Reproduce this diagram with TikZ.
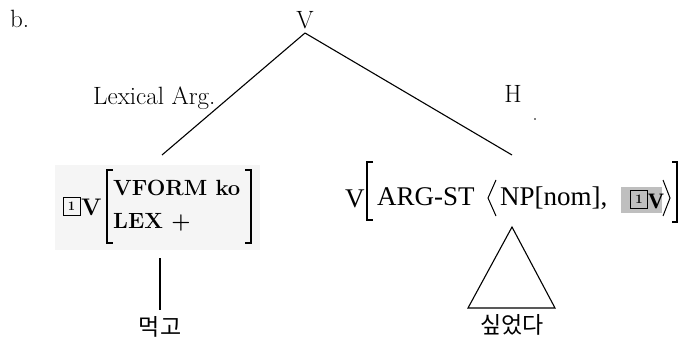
\documentclass[tikz,border=0pt]{standalone}
\usepackage{fontspec}
\newfontfamily\krfont{Noto Sans CJK KR}
\newfontfamily\tmsfont{Liberation Serif}
\begin{document}
\begin{tikzpicture}[x=1pt,y=-1pt,
  lbl/.style={inner sep=0pt, font=\fontsize{25}{29}\selectfont},
  avmL/.style={inner sep=0pt, anchor=base west, font=\fontsize{22}{26}\selectfont\bfseries},
  avmR/.style={inner sep=0pt, anchor=base west, font=\fontsize{27}{31}\selectfont\tmsfont},
  tagbox/.style={draw, line width=1pt, inner sep=0pt, minimum width=17pt, minimum height=18pt, font=\fontsize{13}{13}\selectfont\bfseries},
  br/.style={line width=1.6pt},
  angl/.style={line width=1pt},
  edge/.style={line width=1.1pt},
  kor/.style={inner sep=0pt, font=\fontsize{23}{27}\selectfont\krfont}]
\useasboundingbox (0,0) rectangle (679,339);
% faint background of the left AVM
\fill[black!4] (55,165) rectangle (260,250);
% root and labels
\node[lbl, anchor=base west] (b) at (10,28) {b.};
\node[lbl, anchor=base] (root) at (305,29) {V};
\coordinate (apex) at (305,33);
\coordinate (lt) at (162,155);
\coordinate (rt) at (512,155);
\draw[edge] (apex) -- (lt);
\draw[edge] (apex) -- (rt);
\node[lbl, anchor=base west] (lexarg) at (93,105) {Lexical Arg.};
\node[lbl, anchor=base] (h) at (513,103) {H};
\fill (535,119) circle (0.8pt);
% left AVM
\node[tagbox] (tagL) at (71.5,206) {1};
\node[avmL, font=\fontsize{24}{28}\selectfont\bfseries] (vL) at (81,215) {V};
\draw[br] (113,170) -- (107,170) -- (107,243) -- (113,243);
\node[avmL] (vform) at (113,195) {VFORM ko};
\node[avmL] (lex) at (113,228) {LEX +};
\draw[br] (245,170) -- (251,170) -- (251,243) -- (245,243);
% right AVM
\node[avmR] (vR) at (345,207) {V};
\draw[br] (373,162) -- (367,162) -- (367,220) -- (373,220);
\node[avmR] (argst) at (377,205) {ARG-ST};
\draw[angl] (496,180) -- (488,198) -- (496,216);
\node[avmR] (np) at (500,205) {NP[nom],};
\fill[black!25] (621,187) rectangle (662,213);
\node[tagbox] (tagR) at (639,199) {1};
\node[avmR, font=\fontsize{22}{26}\selectfont\tmsfont\bfseries] (vR2) at (648,208) {V};
\draw[angl] (663,180) -- (670,198) -- (663,216);
\draw[br] (672,162) -- (677,162) -- (677,222) -- (672,222);
% bottom
\coordinate (lb) at (160,258);
\coordinate (lb2) at (160,310);
\draw[edge] (lb) -- (lb2);
\node[kor] (w1) at (160,327) {먹고};
\coordinate (ta) at (512,227);
\coordinate (tl) at (468,308);
\coordinate (tr) at (555,308);
\draw[edge] (tl) -- (ta) -- (tr) -- cycle;
\node[kor] (w2) at (512,325) {싶었다};
\end{tikzpicture}
\end{document}
